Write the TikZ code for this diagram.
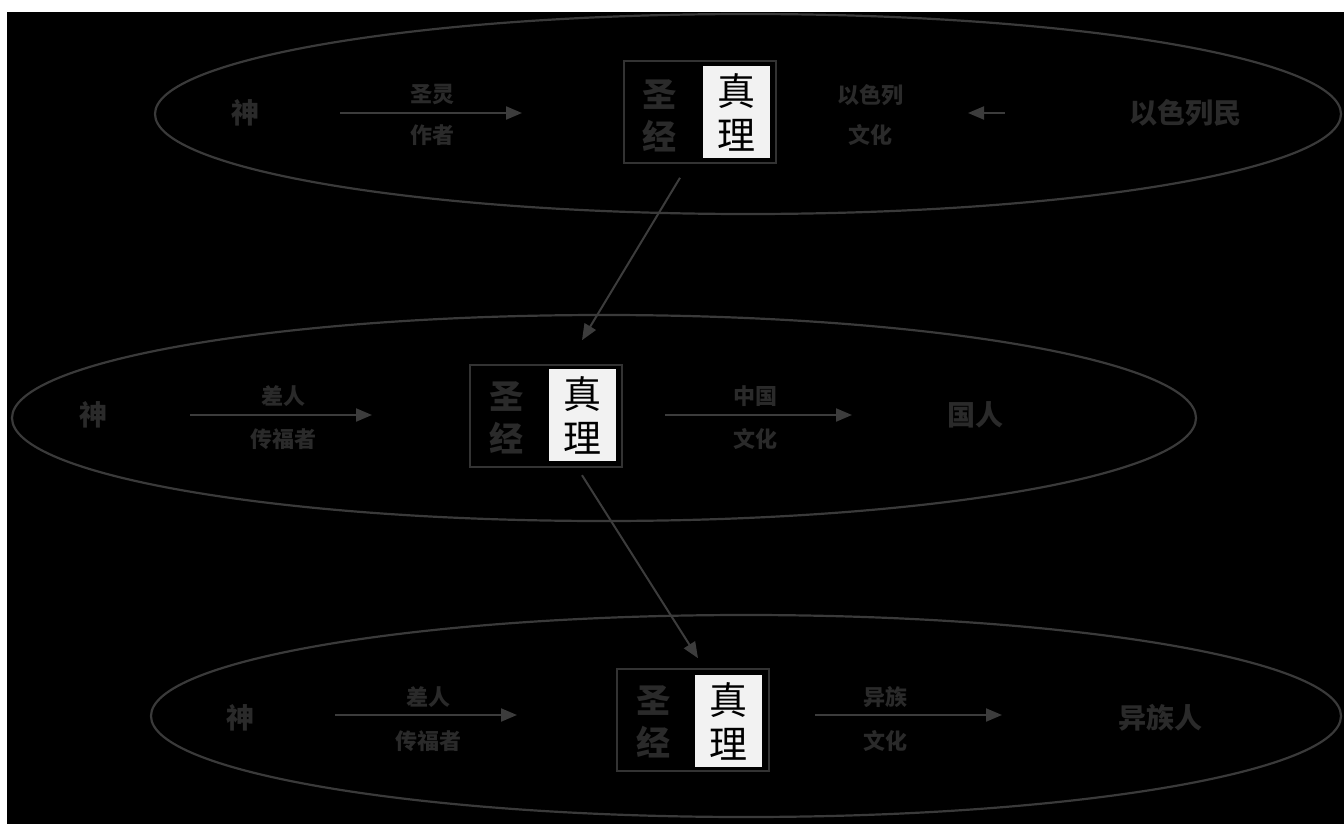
\documentclass[tikz,border=0pt]{standalone}
\usepackage{fontspec}
\newfontfamily\cjk{Noto Sans CJK SC}
\usetikzlibrary{shapes.geometric,arrows.meta}
\definecolor{dimc}{HTML}{2A2A2A}
\definecolor{ringc}{HTML}{3A3A3A}
\definecolor{boxc}{HTML}{333333}
\definecolor{arrc}{HTML}{3C3C3C}
\definecolor{paper}{HTML}{F2F2F2}
\tikzset{
  dimtext/.style={text=dimc, font=\cjk\bfseries\fontsize{22}{24}\selectfont, inner sep=1pt},
  bigtext/.style={text=dimc, font=\cjk\bfseries\fontsize{28}{30}\selectfont, inner sep=1pt},
  ring/.style={draw=ringc, line width=2.2pt, ellipse, inner sep=0pt},
  truth/.style={fill=paper, text=black, font=\cjk\fontsize{38}{44}\selectfont, align=center, inner sep=0pt, minimum width=67pt, minimum height=92pt},
  bible/.style={text=dimc, font=\cjk\bfseries\fontsize{34}{42}\selectfont, align=center, inner sep=0pt},
  bibframe/.style={draw=boxc, line width=1.6pt, minimum width=152pt, minimum height=102pt, inner sep=0pt},
  flow/.style={draw=arrc, line width=2pt, -{Triangle[length=16pt,width=13pt]}},
}
\begin{document}
\begin{tikzpicture}[x=1pt,y=-1pt]
\useasboundingbox (0,0) rectangle (1344,824);
\fill[white] (0,0) rectangle (1344,824);
\fill[black] (7,12) rectangle (1344,824);

% ---------- rings ----------
\node[ring, minimum width=1186pt, minimum height=200pt] (r1) at (748,114) {};
\node[ring, minimum width=1184pt, minimum height=206pt] (r2) at (604,418) {};
\node[ring, minimum width=1190pt, minimum height=202pt] (r3) at (746,716) {};

% ---------- top row ----------
\node[bigtext] (g1) at (245,113) {神};
\coordinate (a1s) at (340,113);
\coordinate (a1e) at (522,113);
\draw[flow] (a1s) -- (a1e);
\node[dimtext] (l1a) at (432,95) {圣灵};
\node[dimtext] (l1b) at (432,135) {作者};
\node[bibframe] (f1) at (700,112) {};
\node[bible] (b1) at (659,116) {圣\\经};
\node[truth] (t1) at (736,112) {真\\理};
\node[dimtext] (l2a) at (870,95) {以色列};
\node[dimtext] (l2b) at (870,135) {文化};
\coordinate (a2s) at (1005,113);
\coordinate (a2e) at (968,113);
\draw[flow] (a2s) -- (a2e);
\node[bigtext] (p1) at (1185,113) {以色列民};

% ---------- middle row ----------
\node[bigtext] (g2) at (93,415) {神};
\coordinate (a3s) at (190,415);
\coordinate (a3e) at (372,415);
\draw[flow] (a3s) -- (a3e);
\node[dimtext] (l3a) at (283,396) {差人};
\node[dimtext] (l3b) at (283,439) {传福者};
\node[bibframe] (f2) at (546,416) {};
\node[bible] (b2) at (506,418) {圣\\经};
\node[truth] (t2) at (582,415) {真\\理};
\coordinate (a4s) at (665,415);
\coordinate (a4e) at (852,415);
\draw[flow] (a4s) -- (a4e);
\node[dimtext] (l4a) at (755,396) {中国};
\node[dimtext] (l4b) at (755,439) {文化};
\node[bigtext] (p2) at (975,415) {国人};

% ---------- bottom row ----------
\node[bigtext] (g3) at (240,718) {神};
\coordinate (a5s) at (335,715);
\coordinate (a5e) at (517,715);
\draw[flow] (a5s) -- (a5e);
\node[dimtext] (l5a) at (428,697) {差人};
\node[dimtext] (l5b) at (428,741) {传福者};
\node[bibframe] (f3) at (693,720) {};
\node[bible] (b3) at (653,722) {圣\\经};
\node[truth] (t3) at (728,721) {真\\理};
\coordinate (a6s) at (815,715);
\coordinate (a6e) at (1002,715);
\draw[flow] (a6s) -- (a6e);
\node[dimtext] (l6a) at (885,697) {异族};
\node[dimtext] (l6b) at (885,741) {文化};
\node[bigtext] (p3) at (1160,718) {异族人};

% ---------- links between rings ----------
\draw[flow] ([shift={(-20pt,-14pt)}]f1.south) -- ([shift={(36pt,24pt)}]f2.north);
\draw[flow] ([shift={(0pt,-14pt)}]t2.south) -- ([shift={(5pt,10pt)}]f3.north);
\end{tikzpicture}
\end{document}
